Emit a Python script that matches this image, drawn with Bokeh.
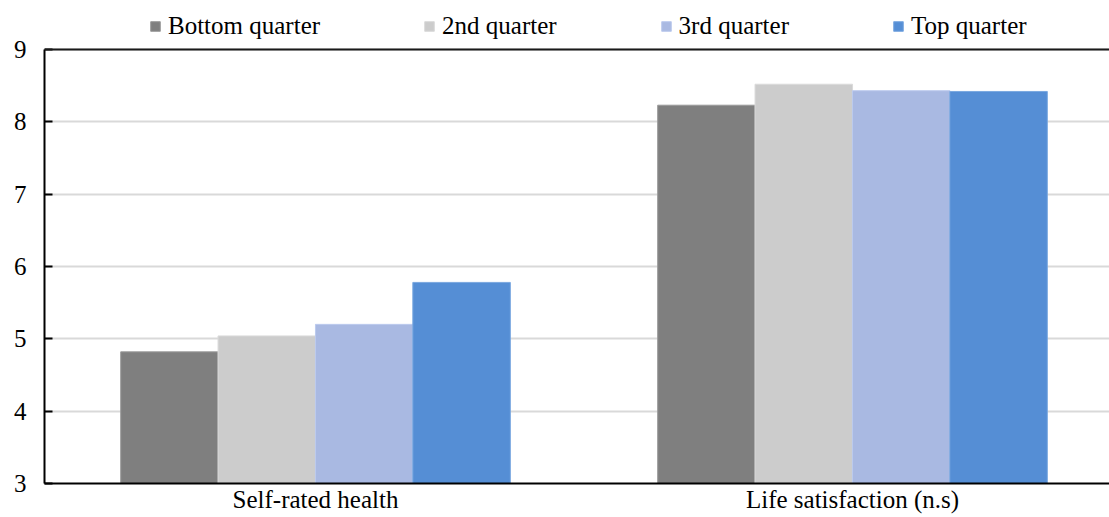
from bokeh.plotting import figure
from bokeh.models import ColumnDataSource, Legend, LegendItem, FixedTicker, Span
from bokeh.embed import file_html
from bokeh.resources import INLINE

categories = ["Self-rated health", "Life satisfaction (n.s)"]
series = ["Bottom quarter", "2nd quarter", "3rd quarter", "Top quarter"]
values = {
    "Bottom quarter": [4.82, 8.23],
    "2nd quarter": [5.04, 8.52],
    "3rd quarter": [5.20, 8.43],
    "Top quarter": [5.78, 8.42],
}
colors = ["#7f7f7f", "#cccccc", "#a9b9e2", "#558ed5"]
edge_colors = ["#9a9a9a", "#dadada", "#bccaee", "#7aa8e0"]
y_ticks = [3, 4, 5, 6, 7, 8, 9]

FONT = "Liberation Serif"
FH = 483
Y_LO, Y_HI = 3, 9
Y_TOP = Y_HI + 49 / ((FH - 49) / (Y_HI - Y_LO))  # room for the legend above the plot box

p = figure(frame_width=1065, frame_height=FH, output_backend="svg", toolbar_location=None,
           x_range=(-0.5047, 1.4786), y_range=(Y_LO, Y_TOP))
p.min_border_left = 44
p.min_border_right = 0
p.min_border_top = 0
p.min_border_bottom = 0
p.outline_line_color = None
p.background_fill_color = "white"
p.border_fill_color = "white"

offsets = [-0.272, -0.0907, 0.0907, 0.272]
bar_w = 0.1816
items = []
for i, s in enumerate(series):
    xs = [k + offsets[i] for k in range(len(categories))]
    src = ColumnDataSource(dict(x=xs, top=values[s]))
    r = p.vbar(x="x", top="top", bottom=Y_LO, width=bar_w, source=src,
               fill_color=colors[i], line_color=edge_colors[i], line_width=1)
    items.append(LegendItem(label=s, renderers=[r]))

legend = Legend(items=items, orientation="horizontal", location=(105, FH - 40),
                label_text_font=FONT, label_text_font_size="25px",
                label_text_color="black", glyph_width=12, glyph_height=12,
                label_standoff=7, spacing=103, padding=0, margin=0,
                border_line_color=None, background_fill_alpha=0,
                label_height=26)
p.add_layout(legend, "center")

# y axis
p.yaxis.ticker = FixedTicker(ticks=y_ticks)
p.yaxis.bounds = (Y_LO, Y_HI)
p.yaxis.major_label_text_font = FONT
p.yaxis.major_label_text_font_size = "25px"
p.yaxis.major_label_text_color = "black"
p.yaxis.axis_line_color = "black"
p.yaxis.axis_line_width = 2
p.yaxis.major_tick_in = 8
p.yaxis.major_tick_out = 0
p.yaxis.major_tick_line_color = "black"
p.yaxis.major_tick_line_width = 2
p.yaxis.minor_tick_line_color = None
p.yaxis.major_label_standoff = 18

# x axis
p.xaxis.ticker = FixedTicker(ticks=list(range(len(categories))))
p.xaxis.major_label_overrides = {i: c for i, c in enumerate(categories)}
p.xaxis.major_label_text_font = FONT
p.xaxis.major_label_text_font_size = "25px"
p.xaxis.major_label_text_color = "black"
p.xaxis.axis_line_color = "black"
p.xaxis.axis_line_width = 2
p.xaxis.major_tick_line_color = None
p.xaxis.minor_tick_line_color = None
p.xaxis.major_tick_in = 0
p.xaxis.major_tick_out = 0
p.xaxis.major_label_standoff = 2

p.xgrid.grid_line_color = None
p.ygrid.ticker = FixedTicker(ticks=y_ticks)
p.ygrid.grid_line_color = "#d9d9d9"
p.ygrid.grid_line_width = 2

p.add_layout(Span(location=Y_HI, dimension="width", line_color="#1a1a1a", line_width=2))

open("out.html", "w").write(file_html(p, INLINE))
